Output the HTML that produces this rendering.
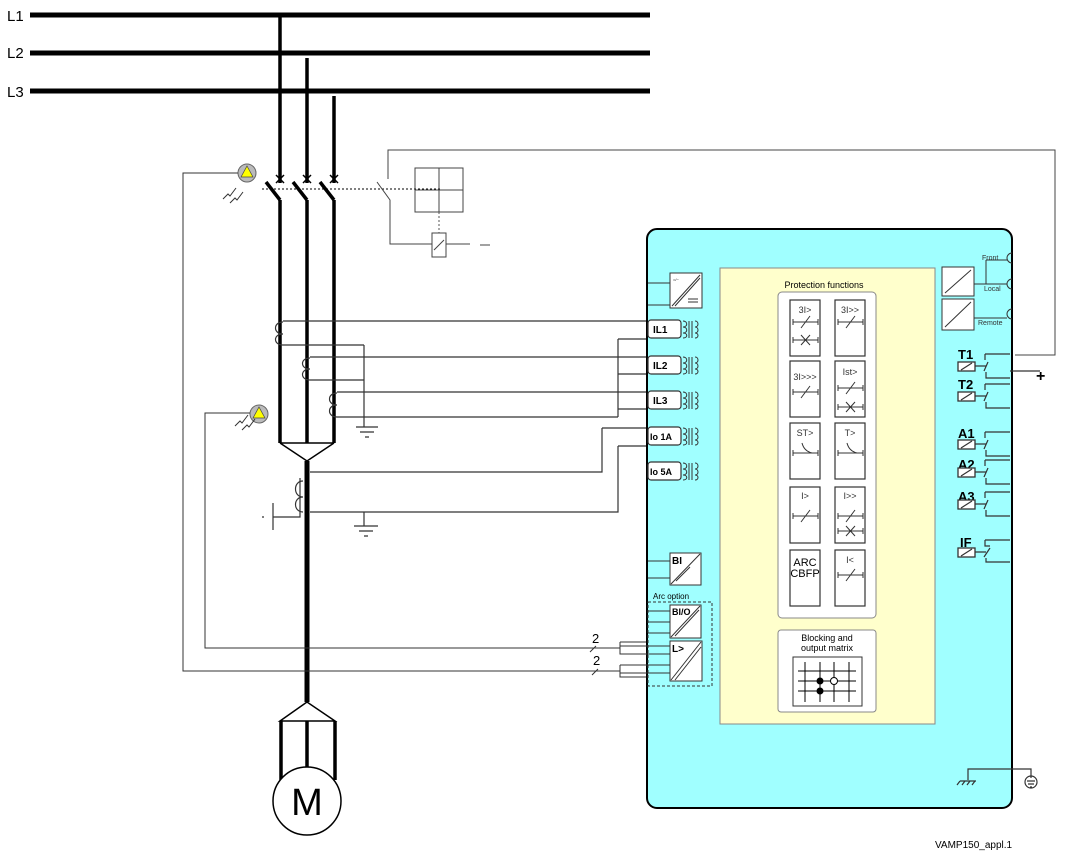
<!DOCTYPE html>
<html><head><meta charset="utf-8"><style>
html,body{margin:0;padding:0;background:#fff}
svg{display:block}
text{font-family:"Liberation Sans",sans-serif}
</style></head><body>
<svg width="1066" height="859" viewBox="0 0 1066 859" xmlns="http://www.w3.org/2000/svg">
<!-- bus bars -->
<g stroke="#000" stroke-width="5">
<line x1="30" y1="15" x2="650" y2="15"/>
<line x1="30" y1="53" x2="650" y2="53"/>
<line x1="30" y1="91" x2="650" y2="91"/>
</g>
<g font-size="15"><text x="7" y="21">L1</text><text x="7" y="58">L2</text><text x="7" y="97">L3</text></g>
<!-- phase verticals -->
<g stroke="#000" stroke-width="3.5" fill="none">
<line x1="280" y1="15" x2="280" y2="183"/>
<line x1="307" y1="58" x2="307" y2="183"/>
<line x1="334" y1="96" x2="334" y2="183"/>
<line x1="266" y1="182" x2="280" y2="200"/>
<line x1="293" y1="182" x2="307" y2="200"/>
<line x1="320" y1="182" x2="334" y2="200"/>
<line x1="280" y1="200" x2="280" y2="443"/>
<line x1="307" y1="200" x2="307" y2="443"/>
<line x1="334" y1="200" x2="334" y2="443"/>
</g>
<g stroke="#000" stroke-width="1.5">
<path d="M276 175l8 8M284 175l-8 8M303 175l8 8M311 175l-8 8M330 175l8 8M338 175l-8 8"/>
<path d="M280 443H334M280 443L307 461L334 443" fill="none"/>
</g>
<line x1="307" y1="461" x2="307" y2="702" stroke="#000" stroke-width="5"/>
<!-- motor -->
<g stroke="#000" fill="none">
<path d="M307 702L280 721H335Z" stroke-width="1.5"/>
<path d="M281 721V780M307 721V768M335 721V780" stroke-width="3.5"/>
<circle cx="307" cy="801" r="34" fill="#fff" stroke-width="1.5"/>
</g>
<text x="307" y="815" font-size="38" text-anchor="middle">M</text>
<!-- dotted mech link -->
<line x1="262" y1="189" x2="440" y2="189" stroke="#000" stroke-width="1" stroke-dasharray="2,2"/>
<g stroke="#444" stroke-width="1" fill="none">
<path d="M377 182L390 200V244H432"/>
<path d="M388 179V150H515"/>
<rect x="415" y="168" width="48" height="44"/>
<path d="M439 168V212M415 190H463"/>
<rect x="432" y="233" width="14" height="24"/>
<path d="M434 250L444 240M446 244H470M480 245H490"/>
<path d="M515 150H1055V355H1015"/>
</g>
<line x1="439" y1="212" x2="439" y2="233" stroke="#555" stroke-dasharray="2,2"/>
<!-- sensors -->
<g>
<circle cx="247" cy="173" r="9" fill="#bbb" stroke="#666"/>
<path d="M247 166L253 177H241Z" fill="#ff0" stroke="#444" stroke-width=".7"/>
<circle cx="259" cy="414" r="9" fill="#bbb" stroke="#666"/>
<path d="M259 407L265 418H253Z" fill="#ff0" stroke="#444" stroke-width=".7"/>
</g>
<g stroke="#333" stroke-width="1" fill="none">
<path d="M223 199l5-5l2 2l6-8M230 203l5-5l2 2l6-8M235 426l5-5l2 2l6-8M242 430l5-5l2 2l6-8"/>
<path d="M238 173H183V671H620M250 413H205V648H620"/>
<path d="M590 652l6-6M592 675l6-6"/>
<path d="M620 642H648M620 642V654H648M620 665H648M620 665V677H648"/>
</g>
<text x="592" y="643" font-size="13">2</text>
<text x="593" y="665" font-size="13">2</text>
<!-- CTs -->
<g stroke="#333" stroke-width="1.2" fill="none">
<path d="M283 322c-10 0-10 12 0 12c-10 0-10 11 0 11"/>
<path d="M310 358c-10 0-10 11 0 11c-10 0-10 11 0 11"/>
<path d="M337 393c-10 0-10 12 0 12c-10 0-10 12 0 12"/>
<path d="M303 481c-10 0-10 16 0 16c-10 0-10 15 0 15"/>
<path d="M283 321H648M283 345H364M310 357H648M310 380H364M337 392H648M337 417H618"/>
<path d="M618 339V417M618 339H648M618 374H648M618 409H648"/>
<path d="M364 345V427M356 427H378M360 432H374M365 437H369"/>
<path d="M602 428H648M602 428V472H310M618 446H648M618 446V512H310"/>
<path d="M364 512V526M354 526H378M359 531H373M364 536H368"/>
<path d="M300 478V517H273M273 503V530M262 517h2"/>
</g>
<!-- relay box -->
<rect x="647" y="229" width="365" height="579" rx="10" fill="#a0ffff" stroke="#000" stroke-width="2"/>
<rect x="720" y="268" width="215" height="456" fill="#ffffcc" stroke="#888"/>
<text x="824" y="288" font-size="9" text-anchor="middle">Protection functions</text>
<rect x="778" y="292" width="98" height="326" rx="4" fill="#fff" stroke="#888"/>
<g fill="#fff" stroke="#333" stroke-width="1.2">
<rect x="790" y="300" width="30" height="56"/><rect x="835" y="300" width="30" height="56"/>
<rect x="790" y="361" width="30" height="56"/><rect x="835" y="361" width="30" height="56"/>
<rect x="790" y="423" width="30" height="56"/><rect x="835" y="423" width="30" height="56"/>
<rect x="790" y="487" width="30" height="56"/><rect x="835" y="487" width="30" height="56"/>
<rect x="790" y="550" width="30" height="56"/><rect x="835" y="550" width="30" height="56"/>
</g>
<g font-family="Liberation Serif" font-size="9" fill="#333" text-anchor="middle">
<text x="805" y="313">3I&gt;</text><text x="850" y="313">3I&gt;&gt;</text>
<text x="805" y="380">3I&gt;&gt;&gt;</text><text x="850" y="375">Ist&gt;</text>
<text x="805" y="436">ST&gt;</text><text x="850" y="436">T&gt;</text>
<text x="805" y="499">I&gt;</text><text x="850" y="499">I&gt;&gt;</text>
<text x="850" y="563">I&lt;</text>
</g>
<text x="805" y="566" font-size="11" text-anchor="middle">ARC</text>
<text x="805" y="577" font-size="11" text-anchor="middle">CBFP</text>
<g stroke="#333" stroke-width="1" fill="none">
<path d="M793 322H818M793 319v6M818 319v6M801 328l9-12"/>
<path d="M793 340H818M793 337v6M818 337v6M801 335l9 10M810 335l-9 10"/>
<path d="M838 322H863M838 319v6M863 319v6M846 328l9-12"/>
<path d="M793 392H818M793 389v6M818 389v6M801 398l9-12"/>
<path d="M838 388H863M838 385v6M863 385v6M846 394l9-12"/>
<path d="M838 407H863M838 404v6M863 404v6M846 402l9 10M855 402l-9 10"/>
<path d="M793 453H818M793 450v6M818 450v6M802 443q2 8 10 10"/>
<path d="M838 453H863M838 450v6M863 450v6M847 443q2 8 10 10"/>
<path d="M793 516H818M793 513v6M818 513v6M801 522l9-12"/>
<path d="M838 516H863M838 513v6M863 513v6M846 522l9-12"/>
<path d="M838 531H863M838 528v6M863 528v6M846 526l9 10M855 526l-9 10"/>
<path d="M838 575H863M838 572v6M863 572v6M846 581l9-12"/>
</g>
<rect x="778" y="630" width="98" height="82" rx="3" fill="#fff" stroke="#888"/>
<text x="827" y="641" font-size="9" text-anchor="middle">Blocking and</text>
<text x="827" y="651" font-size="9" text-anchor="middle">output matrix</text>
<rect x="793" y="657" width="69" height="49" fill="#fff" stroke="#333"/>
<g stroke="#000" stroke-width="1">
<path d="M798 671H856M798 681H856M798 691H856M805 662V702M820 662V702M834 662V702M849 662V702"/>
</g>
<circle cx="820" cy="681" r="3.5" fill="#000"/><circle cx="820" cy="691" r="3.5" fill="#000"/>
<circle cx="834" cy="681" r="3.5" fill="#fff" stroke="#000"/>
<!-- left inputs -->
<g stroke="#333" stroke-width="1" fill="#fff">
<path d="M648 283H670M648 305H670" fill="none"/>
<rect x="670" y="273" width="32" height="35"/>
<path d="M672 306L700 275M675 306L700 278" fill="none"/>
<path d="M688 299h10M688 302h10" fill="none"/>
</g>
<text x="673" y="281" font-size="4">=/~</text>
<g stroke="#333" stroke-width="1.2" fill="#fff">
<rect x="648" y="320" width="33" height="18" rx="3"/>
<rect x="648" y="356" width="33" height="18" rx="3"/>
<rect x="648" y="391" width="33" height="18" rx="3"/>
<rect x="648" y="427" width="33" height="18" rx="3"/>
<rect x="648" y="462" width="33" height="18" rx="3"/>
</g>
<g font-size="10" font-weight="bold">
<text x="653" y="333">IL1</text><text x="653" y="369">IL2</text><text x="653" y="404">IL3</text>
<text x="650" y="440" font-size="9">Io 1A</text><text x="650" y="475" font-size="9">Io 5A</text>
</g>
<g stroke="#333" stroke-width="1" fill="none">
<path d="M683 321c5 0 5 6 0 6c5 0 5 6 0 6c5 0 5 5 0 5M689 321V338M692 321V338M695 321c4 0 4 6 0 6c4 0 4 6 0 6c4 0 4 5 0 5"/>
<path d="M683 357c5 0 5 6 0 6c5 0 5 6 0 6c5 0 5 5 0 5M689 357V374M692 357V374M695 357c4 0 4 6 0 6c4 0 4 6 0 6c4 0 4 5 0 5"/>
<path d="M683 392c5 0 5 6 0 6c5 0 5 6 0 6c5 0 5 5 0 5M689 392V409M692 392V409M695 392c4 0 4 6 0 6c4 0 4 6 0 6c4 0 4 5 0 5"/>
<path d="M683 428c5 0 5 6 0 6c5 0 5 6 0 6c5 0 5 5 0 5M689 428V445M692 428V445M695 428c4 0 4 6 0 6c4 0 4 6 0 6c4 0 4 5 0 5"/>
<path d="M683 463c5 0 5 6 0 6c5 0 5 6 0 6c5 0 5 5 0 5M689 463V480M692 463V480M695 463c4 0 4 6 0 6c4 0 4 6 0 6c4 0 4 5 0 5"/>
</g>
<g stroke="#333" stroke-width="1" fill="#fff">
<path d="M648 561H670M648 578H670M648 611H670M648 622H670M648 633H670M620 646H670M620 654H670M620 665H670M620 673H670" fill="none"/>
<rect x="670" y="553" width="31" height="32"/>
<rect x="670" y="605" width="31" height="33"/>
<rect x="670" y="641" width="32" height="40"/>
<path d="M671 584L700 554M676 581L690 567M671 637L700 606M675 636L699 610M671 680L701 642M675 680L701 647" fill="none"/>
</g>
<rect x="648" y="602" width="64" height="84" fill="none" stroke="#333" stroke-dasharray="3,2"/>
<text x="653" y="599" font-size="8">Arc option</text>
<g font-size="10" font-weight="bold"><text x="672" y="564">BI</text><text x="672" y="615" font-size="9">BI/O</text><text x="672" y="652">L&gt;</text></g>
<!-- right comm -->
<g stroke="#333" stroke-width="1" fill="#fff">
<rect x="942" y="267" width="32" height="29"/>
<rect x="942" y="299" width="32" height="31"/>
<path d="M945 293L971 270M945 327L971 302" fill="none"/>
<path d="M974 284H1007M986 260V284M986 260H1007M974 318H1007" fill="none"/>
<path d="M1012 253a5 5 0 0 0 0 10M1012 279a5 5 0 0 0 0 10M1012 309a5 5 0 0 0 0 10" fill="none"/>
</g>
<g font-size="7" fill="#333"><text x="982" y="260">Front</text><text x="984" y="291">Local</text><text x="978" y="325">Remote</text></g>
<!-- outputs -->
<g font-size="13" font-weight="bold">
<text x="958" y="359">T1</text><text x="958" y="389">T2</text>
<text x="958" y="438">A1</text><text x="958" y="469">A2</text><text x="958" y="501">A3</text><text x="960" y="547">IF</text>
</g>
<g stroke="#333" stroke-width="1.3" fill="#fff">
<rect x="958" y="362" width="17" height="9"/><rect x="958" y="392" width="17" height="9"/>
<rect x="958" y="440" width="17" height="9"/><rect x="958" y="468" width="17" height="9"/>
<rect x="958" y="500" width="17" height="9"/><rect x="958" y="548" width="17" height="9"/>
</g>
<g stroke="#333" stroke-width="1.2" fill="none">
<path d="M961 370l11-7M961 400l11-7M961 448l11-7M961 476l11-7M961 508l11-7M961 556l11-7"/>
<path d="M975 366H986M984 371l4-9M985 354V360M985 354H1010M986 372V378H1010"/>
<path d="M975 396H986M984 401l4-9M985 384V390M985 384H1010M986 402V408H1010"/>
<path d="M975 444H986M984 449l4-9M985 432V438M985 432H1010M986 450V456H1010"/>
<path d="M975 472H986M984 477l4-9M985 460V466M985 460H1010M986 478V484H1010"/>
<path d="M975 504H986M984 509l4-9M985 492V498M985 492H1010M986 510V516H1010"/>
<path d="M975 552H986M984 557l6-9M985 540V546H990M985 540H1010M986 558V562H1010"/>
<path d="M1010 371H1040"/>
</g>
<text x="1036" y="381" font-size="16" font-weight="bold">+</text>
<!-- earth -->
<g stroke="#333" stroke-width="1.2" fill="none">
<path d="M968 780V769H1031V778M960 781H976M960 781l-3 4M965 781l-3 4M970 781l-3 4M975 781l-3 4"/>
<circle cx="1031" cy="782" r="6"/><path d="M1027 781H1035M1028 784H1034M1030 787H1032"/>
</g>
<text x="935" y="848" font-size="10">VAMP150_appl.1</text>
</svg>
</body></html>
